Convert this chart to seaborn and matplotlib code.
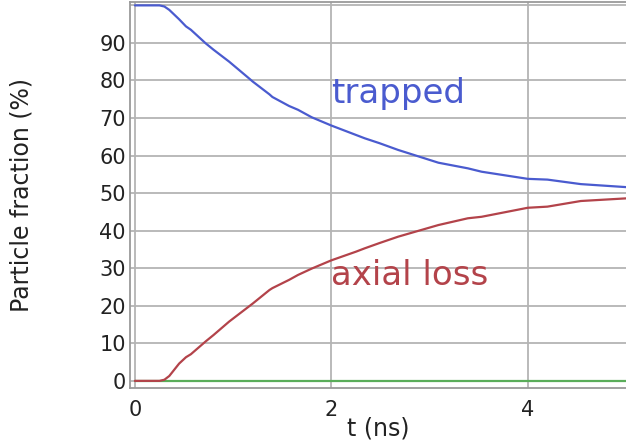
import matplotlib
matplotlib.use("Agg")
import matplotlib.pyplot as plt
import seaborn as sns
import pandas as pd

# ---- data ----
t_ns = [0, 0.25, 0.3, 0.35, 0.45, 0.52, 0.57, 0.72, 0.8, 0.96, 1.16, 1.2, 1.37, 1.4,
        1.57, 1.66, 1.8, 2.0, 2.25, 2.34, 2.49, 2.68, 3.09, 3.39, 3.53, 4.0, 4.2, 4.54, 5.0]
trapped = [100, 100, 99.7, 98.8, 96.3, 94.4, 93.5, 89.9, 88.2, 85.0, 80.6, 79.7, 76.3, 75.6,
           73.2, 72.2, 70.2, 68.0, 65.5, 64.6, 63.3, 61.5, 58.1, 56.6, 55.7, 53.8, 53.6, 52.4, 51.6]
axial_loss = [0, 0, 0.3, 1.3, 4.6, 6.3, 7.1, 10.5, 12.2, 15.8, 19.8, 20.6, 24.2, 24.7,
              26.9, 28.2, 29.9, 32.1, 34.4, 35.3, 36.7, 38.4, 41.5, 43.3, 43.7, 46.1, 46.4, 47.9, 48.6]
other_loss = [0] * len(t_ns)
series_names = ["trapped", "axial loss", "other"]
x_ticks = [0, 2, 4]
y_ticks = [0, 10, 20, 30, 40, 50, 60, 70, 80, 90, 100]
y_tick_labels = ["0", "10", "20", "30", "40", "50", "60", "70", "80", "90", ""]

colors = {"trapped": "#4a5bcf", "axial loss": "#b3434a", "other": "#5aad5a"}

df = pd.concat([
    pd.DataFrame({"t": t_ns, "fraction": trapped, "series": series_names[0]}),
    pd.DataFrame({"t": t_ns, "fraction": axial_loss, "series": series_names[1]}),
    pd.DataFrame({"t": t_ns, "fraction": other_loss, "series": series_names[2]}),
])

sns.set_style("white")
plt.rcParams["font.family"] = ["DejaVu Sans"]

fig = plt.figure(figsize=(6.26, 4.44), dpi=100)
ax = fig.add_axes([130 / 626, 1 - 388 / 444, 1 - 130 / 626, (388 - 2) / 444])

sns.lineplot(data=df, x="t", y="fraction", hue="series", palette=colors,
             hue_order=series_names[::-1], legend=False, linewidth=1.6, ax=ax,
             estimator=None, sort=False)

ax.set_xlim(-0.05, 5.0)
ax.set_ylim(-1.9, 100.9)
ax.set_xticks(x_ticks)
ax.set_yticks(y_ticks)
ax.set_yticklabels(y_tick_labels)
ax.grid(True, color="#b4b4b4", linewidth=1.3)
ax.set_axisbelow(True)
ax.tick_params(axis="both", length=0, labelsize=15, colors="#222222")
ax.tick_params(axis="y", pad=3)
ax.tick_params(axis="x", pad=9)
for side in ["left", "bottom", "top"]:
    ax.spines[side].set_color("#9a9a9a")
    ax.spines[side].set_linewidth(1.3)
ax.spines["right"].set_visible(False)

ax.set_xlabel("t (ns)", fontsize=17, color="#222222", labelpad=-3)
ax.set_ylabel("Particle fraction (%)", fontsize=17, color="#222222", labelpad=47)

ax.text(2.0, 74.0, "trapped", color=colors["trapped"], fontsize=24.5,
        ha="left", va="baseline")
ax.text(2.0, 25.6, "axial loss", color=colors["axial loss"], fontsize=24.5,
        ha="left", va="baseline")

fig.savefig("out.png", dpi=100)
